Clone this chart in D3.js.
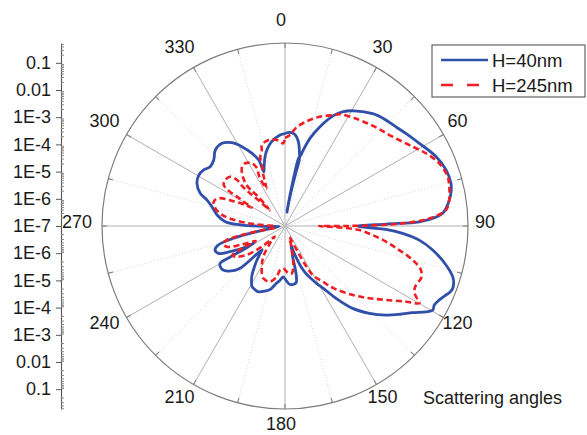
<!DOCTYPE html>
<html>
<head>
<meta charset="utf-8">
<script src="https://cdn.jsdelivr.net/npm/d3@7"></script>
<style>
  html, body { margin: 0; padding: 0; background: #fff; }
  svg { display: block; font-family: "Liberation Sans", Arial, Helvetica, sans-serif; }
</style>
</head>
<body>
<svg id="chart" width="587" height="435"></svg>
<script>
// Far-field scattering pattern, log10 of scattered intensity versus scattering angle (deg).
// Points follow the traced outline, so a few angles repeat where a lobe dips to the origin.
const h40Angle = [0, 3, 6, 9, 11, 12.2, 11.6, 10.5, 9.2, 8, 9.2, 10.4, 11.3, 12.5, 13.5, 15.9, 19.4, 23.7, 27, 31, 38, 43, 48.2, 53, 58.4, 65.3, 70.8, 75.6, 78.5, 81, 83.5, 85.4, 86.8, 88.2, 88.9, 90.2, 91.2, 91.9, 93.6, 96, 99.2, 103.6, 106.8, 108.5, 110.4, 112, 113.2, 115.6, 117.9, 119.6, 121.3, 124.2, 127.5, 131.4, 136, 140.6, 144.8, 148.4, 151, 153.5, 156, 158.5, 160, 161.5, 162.5, 164.5, 166.3, 166.5, 167.5, 169, 172, 175.5, 178.5, 182, 185, 188.5, 193, 197, 202, 205, 208.5, 211, 213.5, 216.5, 219.5, 222, 224, 226.8, 230, 234.5, 238, 240.1, 240.5, 240.3, 241, 241.6, 245, 247.7, 251.1, 254.1, 256.6, 258.6, 261, 266, 269, 271.3, 274.1, 279.2, 284.8, 288.4, 291.1, 295.9, 300.6, 304.6, 308.4, 312.8, 317.5, 322.7, 327.5, 331.5, 335.6, 338.3, 338.6, 341, 343.9, 347, 351, 356.9, 360];
const h40Log = [-3.60, -3.55, -3.61, -3.86, -4.22, -4.50, -4.98, -5.53, -6.08, -6.49, -5.86, -4.98, -4.46, -4.35, -4.13, -3.65, -3.13, -2.57, -2.28, -2.06, -1.76, -1.63, -1.53, -1.39, -1.20, -0.89, -0.73, -0.70, -0.77, -0.88, -1.03, -1.18, -1.49, -2.06, -3.29, -4.33, -3.88, -3.29, -2.67, -2.04, -1.50, -0.91, -0.56, -0.46, -0.42, -0.47, -0.56, -0.71, -0.79, -0.75, -0.93, -1.33, -1.67, -2.05, -2.54, -3.08, -3.75, -4.31, -4.57, -4.83, -5.07, -5.38, -5.68, -5.97, -6.26, -6.04, -5.79, -5.46, -5.05, -4.87, -4.83, -4.85, -4.98, -5.13, -5.01, -4.87, -4.61, -4.50, -4.39, -4.41, -4.46, -4.61, -4.79, -5.09, -5.38, -5.64, -5.79, -4.73, -4.43, -4.21, -4.19, -4.25, -4.65, -5.27, -5.71, -5.40, -4.77, -4.35, -4.28, -4.45, -5.05, -5.94, -6.56, -6.78, -6.28, -5.42, -4.80, -4.47, -4.22, -3.98, -3.66, -3.40, -3.32, -3.37, -3.49, -3.43, -3.21, -3.18, -3.37, -3.68, -4.07, -4.39, -4.86, -4.65, -4.35, -4.10, -3.86, -3.65, -3.60];

const h245Angle = [0, 3.1, 6.5, 11.5, 17.5, 24, 26.2, 33, 41.3, 50.3, 58.2, 62.7, 67.9, 73.1, 76.5, 81, 84.3, 87, 88.7, 89.5, 90, 90.2, 91, 91.9, 93.1, 95.9, 98.8, 101.9, 104.9, 107.9, 111, 114.2, 116.9, 119.1, 119.9, 122, 126.2, 130.6, 135.5, 142, 145.9, 150.5, 152.6, 153.5, 155.5, 158, 163.3, 168, 171.9, 176, 182.3, 186.5, 189.3, 195.1, 202.5, 208.8, 215.2, 220.9, 224, 228, 233, 238, 241, 242.5, 243, 247.1, 250.5, 254.3, 256.5, 258, 259.5, 262, 268, 272, 274.3, 277.2, 280, 284.2, 288.8, 292.7, 296, 297.9, 299, 300.5, 301.4, 302, 303.8, 307.6, 312, 313.8, 313, 313, 314.5, 316, 317.5, 316.5, 317, 320, 324, 327.7, 332.2, 334.1, 332.5, 333.5, 335.3, 336.6, 338.8, 340.4, 342.6, 344.1, 349.3, 354.5, 358.8, 360];
const h245Log = [-3.76, -3.65, -3.36, -3.08, -2.79, -2.53, -2.42, -2.28, -2.10, -1.86, -1.47, -1.17, -0.88, -0.75, -0.79, -0.89, -1.05, -1.69, -2.67, -3.69, -4.79, -5.75, -5.35, -4.76, -4.26, -3.76, -3.24, -2.71, -2.14, -1.75, -1.64, -1.72, -1.67, -1.42, -1.30, -1.75, -2.40, -2.92, -3.44, -4.10, -4.53, -4.93, -5.46, -5.90, -6.34, -6.56, -6.14, -5.53, -5.24, -5.26, -5.44, -5.37, -5.11, -4.88, -4.92, -5.22, -5.62, -6.16, -6.45, -5.90, -5.24, -4.87, -4.79, -5.24, -5.79, -5.21, -4.72, -4.64, -4.79, -5.35, -6.08, -6.63, -6.63, -6.26, -5.66, -5.04, -4.65, -4.36, -4.23, -4.36, -4.97, -5.35, -5.60, -5.24, -4.93, -4.58, -4.29, -4.23, -4.29, -4.56, -4.86, -5.20, -5.71, -6.19, -5.53, -5.16, -4.90, -4.57, -4.31, -4.27, -4.39, -4.64, -4.94, -5.46, -5.27, -5.03, -4.66, -4.29, -4.14, -3.90, -3.78, -3.82, -3.96, -3.76];

const seriesNames = ["H=40nm", "H=245nm"];
const seriesColors = ["#2f4fa8", "#f01e23"];
const angleTicks = d3.range(0, 360, 30);
const radialTicks = [1e-7, 1e-6, 1e-5, 1e-4, 1e-3, 0.01, 0.1];
const radialTickLabels = ["1E-7", "1E-6", "1E-5", "1E-4", "1E-3", "0.01", "0.1"];
const axisTitle = "Scattering angles";

const svg = d3.select("#chart");
const cx = 285, cy = 226, R = 183;
const rMax = Math.pow(10, -0.272);

// radial log scale: 1E-7 sits at the origin
const rScale = d3.scaleLog().domain([1e-7, rMax]).range([0, R]).clamp(true);
const rad = d => d * Math.PI / 180;

const plot = svg.append("g").attr("transform", `translate(${cx},${cy})`);

// spokes every 15 degrees: solid at multiples of 30, dotted in between
d3.range(0, 360, 15).forEach(a => {
  const major = a % 30 === 0;
  plot.append("line")
    .attr("x1", 0).attr("y1", 0)
    .attr("x2", R * Math.sin(rad(a))).attr("y2", -R * Math.cos(rad(a)))
    .attr("stroke", major ? "#b0b0b0" : "#d4d4d4")
    .attr("stroke-width", major ? 1 : 0.9)
    .attr("stroke-dasharray", major ? null : "1.2,2");
  // inward tick on the rim
  plot.append("line")
    .attr("x1", (R - 5) * Math.sin(rad(a))).attr("y1", -(R - 5) * Math.cos(rad(a)))
    .attr("x2", R * Math.sin(rad(a))).attr("y2", -R * Math.cos(rad(a)))
    .attr("stroke", "#808080").attr("stroke-width", 1.1);
});

// outer rim
plot.append("circle").attr("r", R).attr("fill", "none")
  .attr("stroke", "#7c7c7c").attr("stroke-width", 1.2);

// angle labels, set on a ring slightly off the plot centre
const labelR = 202, labelDx = -4, labelDy = -4;
plot.selectAll("text.ang").data(angleTicks).join("text")
  .attr("class", "ang")
  .attr("x", a => labelDx + (labelR + 2 * Math.abs(Math.sin(rad(a)))) * Math.sin(rad(a)))
  .attr("y", a => labelDy - labelR * Math.cos(rad(a)))
  .attr("text-anchor", "middle")
  .attr("dominant-baseline", "central")
  .attr("font-size", 18)
  .attr("fill", "#1a1a1a")
  .text(a => a);

// pattern curves
const line = d3.lineRadial()
  .angle(d => rad(d[0]))
  .radius(d => rScale(Math.pow(10, d[1])))
  .curve(d3.curveCatmullRom.alpha(0.5));

const h40 = h40Angle.map((a, i) => [a, h40Log[i]]);
const h245 = h245Angle.map((a, i) => [a, h245Log[i]]);

plot.append("path").datum(h40)
  .attr("d", line)
  .attr("fill", "none")
  .attr("stroke", seriesColors[0])
  .attr("stroke-width", 2.8)
  .attr("stroke-linejoin", "round");

plot.append("path").datum(h245)
  .attr("d", line)
  .attr("fill", "none")
  .attr("stroke", seriesColors[1])
  .attr("stroke-width", 2.6)
  .attr("stroke-dasharray", "6,3.5");

// mirrored radial axis on the left
const axisX = 61;
const upper = d3.scaleLog().domain([1e-7, rMax]).range([cy, cy - R]);
const lower = d3.scaleLog().domain([1e-7, rMax]).range([cy, cy + R]);
const minorTicks = [];
for (let e = -7; e <= -1; e++) {
  for (let k = 2; k <= 9; k++) {
    const v = k * Math.pow(10, e);
    if (v < rMax) minorTicks.push(v);
  }
}

const axisG = svg.append("g").attr("transform", `translate(${axisX},0)`)
  .attr("color", "#555");

[upper, lower].forEach((sc, idx) => {
  const ax = axisG.append("g")
    .call(d3.axisLeft(sc)
      .tickValues(idx === 0 ? radialTicks : radialTicks.slice(1))
      .tickFormat(v => radialTickLabels[radialTicks.indexOf(v)])
      .tickSize(5).tickSizeOuter(0).tickPadding(5));
  ax.selectAll("text").attr("font-size", 18)
    .attr("font-family", "Liberation Sans, Arial, sans-serif")
    .attr("fill", "#1a1a1a");
  ax.select(".domain").attr("stroke-width", 1.1);
  axisG.append("g")
    .call(d3.axisRight(sc).tickValues(minorTicks).tickSize(3).tickSizeOuter(0).tickFormat(""))
    .call(g => g.select(".domain").remove())
    .selectAll("line").attr("stroke", "#8a8a8a");
});

// axis title
svg.append("text")
  .attr("x", 423).attr("y", 404)
  .attr("font-size", 18)
  .attr("fill", "#1a1a1a")
  .text(axisTitle);

// legend
const lg = svg.append("g");
lg.append("rect")
  .attr("x", 432).attr("y", 45).attr("width", 153).attr("height", 52)
  .attr("fill", "#fff").attr("stroke", "#555").attr("stroke-width", 1.1);
[0, 1].forEach(i => {
  const y = 60 + i * 25;
  lg.append("line")
    .attr("x1", 441).attr("x2", 488).attr("y1", y).attr("y2", y)
    .attr("stroke", seriesColors[i])
    .attr("stroke-width", 2.6)
    .attr("stroke-dasharray", i === 1 ? "12,14" : null);
  lg.append("text")
    .attr("x", 492).attr("y", y)
    .attr("dominant-baseline", "central")
    .attr("font-size", 18.5)
    .attr("fill", "#1a1a1a")
    .text(seriesNames[i]);
});
</script>
</body>
</html>
